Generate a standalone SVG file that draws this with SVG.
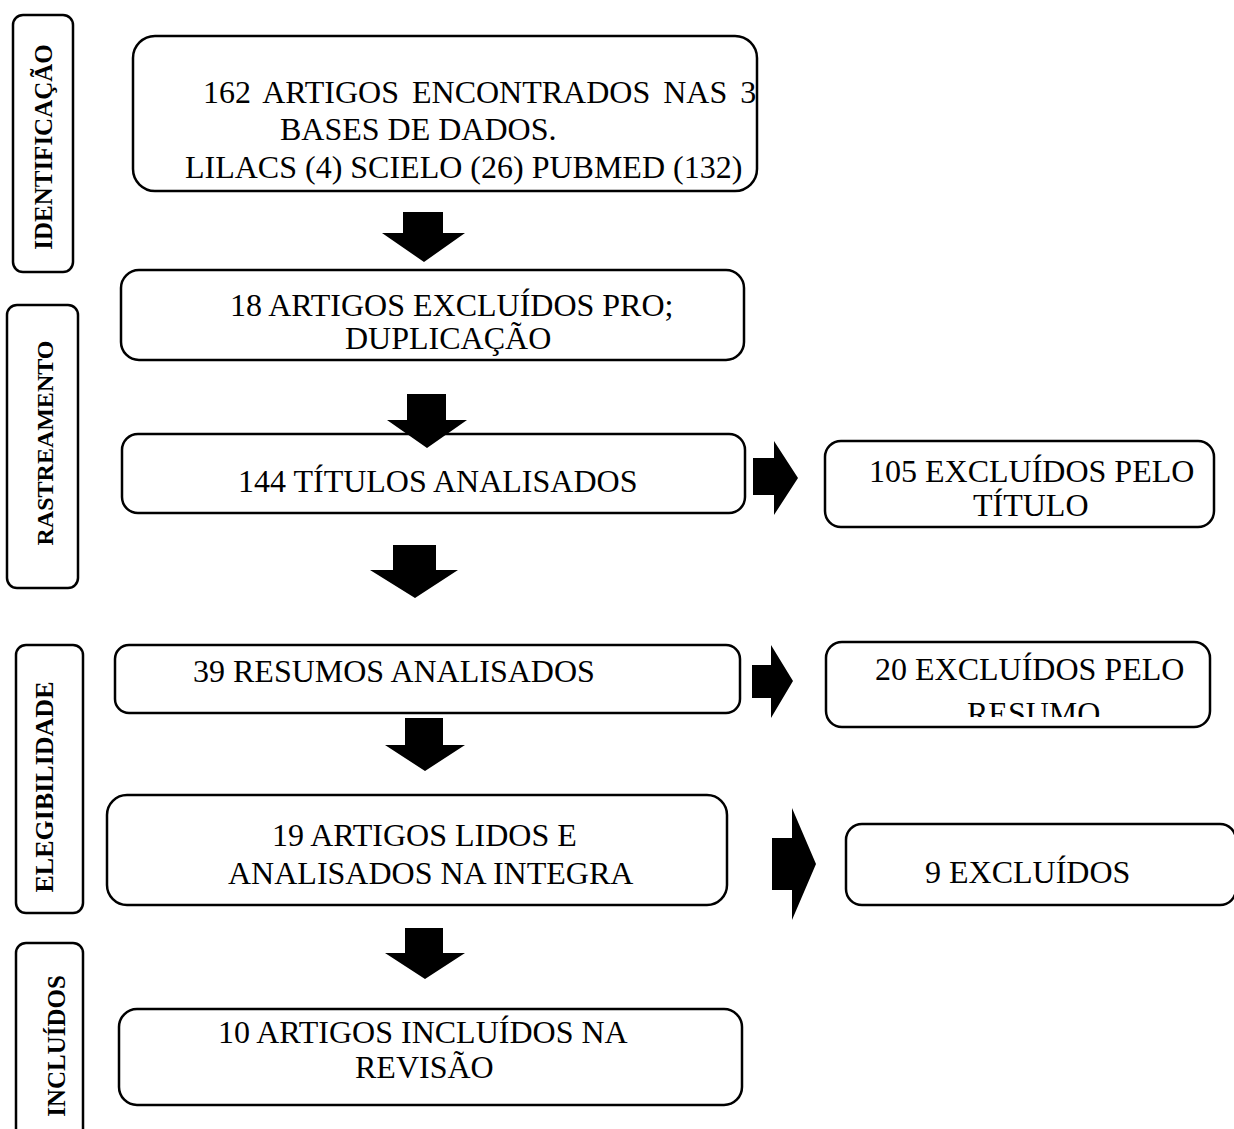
<svg xmlns="http://www.w3.org/2000/svg" width="1234" height="1129" viewBox="0 0 1234 1129">
<style>
.box{fill:#fff;stroke:#000;stroke-width:2.5}
.t{font-family:"Liberation Serif","Times New Roman",serif;font-size:32px;fill:#000}
.s{font-family:"Liberation Serif","Times New Roman",serif;font-size:25px;font-weight:bold;fill:#000;text-anchor:middle}
.ar{fill:#000;stroke:none}
</style>
<defs>
<clipPath id="clipResumo"><rect x="826" y="642" width="384" height="75"/></clipPath>
</defs>
<rect width="1234" height="1129" fill="#fff"/>
<g id="label-identificacao">
<rect class="box" x="13" y="15" width="60" height="257" rx="10"/>
<text class="s" transform="translate(52,147) rotate(-90)">IDENTIFICAÇÃO</text>
</g>
<g id="label-rastreamento">
<rect class="box" x="7" y="305" width="71" height="283" rx="10"/>
<text class="s" style="font-size:24px" transform="translate(53,443) rotate(-90)">RASTREAMENTO</text>
</g>
<g id="label-elegibilidade">
<rect class="box" x="16" y="645" width="67" height="268" rx="10"/>
<text class="s" style="font-size:26px" transform="translate(53,787) rotate(-90)">ELEGIBILIDADE</text>
</g>
<g id="label-incluidos">
<rect class="box" x="16" y="943" width="67" height="200" rx="10"/>
<text class="s" transform="translate(65,1046) rotate(-90)">INCLUÍDOS</text>
</g>
<g id="n1">
<rect class="box" x="133" y="36" width="624" height="155" rx="22"/>
<text class="t" x="203" y="103" word-spacing="5">162 ARTIGOS ENCONTRADOS NAS 3</text>
<text class="t" x="280" y="140">BASES DE DADOS.</text>
<text class="t" x="185" y="178">LILACS (4) SCIELO (26) PUBMED (132)</text>
</g>
<g id="n2">
<rect class="box" x="121" y="270" width="623" height="90" rx="18"/>
<text class="t" x="230" y="316">18 ARTIGOS EXCLUÍDOS PRO;</text>
<text class="t" x="345" y="349">DUPLICAÇÃO</text>
</g>
<g id="n3">
<rect class="box" x="122" y="434" width="623" height="79" rx="16"/>
<text class="t" x="238" y="492">144 TÍTULOS ANALISADOS</text>
</g>
<g id="n4">
<rect class="box" x="825" y="441" width="389" height="86" rx="16"/>
<text class="t" x="869" y="482">105 EXCLUÍDOS PELO</text>
<text class="t" x="973" y="516">TÍTULO</text>
</g>
<g id="n5">
<rect class="box" x="115" y="645" width="625" height="68" rx="14"/>
<text class="t" x="193" y="682">39 RESUMOS ANALISADOS</text>
</g>
<g id="n6">
<rect class="box" x="826" y="642" width="384" height="85" rx="16"/>
<text class="t" x="875" y="680">20 EXCLUÍDOS PELO</text>
<text class="t" x="967" y="724" clip-path="url(#clipResumo)">RESUMO</text>
</g>
<g id="n7">
<rect class="box" x="107" y="795" width="620" height="110" rx="20"/>
<text class="t" x="272" y="846">19 ARTIGOS LIDOS E</text>
<text class="t" x="228" y="884">ANALISADOS NA INTEGRA</text>
</g>
<g id="n8">
<rect class="box" x="846" y="824" width="390" height="81" rx="16"/>
<text class="t" x="925" y="883">9 EXCLUÍDOS</text>
</g>
<g id="n9">
<rect class="box" x="119" y="1009" width="623" height="96" rx="18"/>
<text class="t" x="218" y="1043">10 ARTIGOS INCLUÍDOS NA</text>
<text class="t" x="355" y="1078">REVISÃO</text>
</g>
<g id="connectors">
<polygon class="ar" points="403,212 443,212 443,233 465,233 424,262 382,233 403,233"/>
<polygon class="ar" points="407,394 446,394 446,420 467,420 427,448 387,420 407,420"/>
<polygon class="ar" points="393,545 436,545 436,570 458,570 415,598 370,570 393,570"/>
<polygon class="ar" points="405,718 443,718 443,745 465,745 425,771 385,745 405,745"/>
<polygon class="ar" points="405,928 443,928 443,953 465,953 425,979 385,953 405,953"/>
<polygon class="ar" points="753,458 774,458 774,441 798,478 774,515 774,495 753,495"/>
<polygon class="ar" points="752,665 771,665 771,645 793,681 771,718 771,698 752,698"/>
<polygon class="ar" points="772,838 792,838 792,808 816,864 792,920 792,890 772,890"/>
</g>
</svg>
